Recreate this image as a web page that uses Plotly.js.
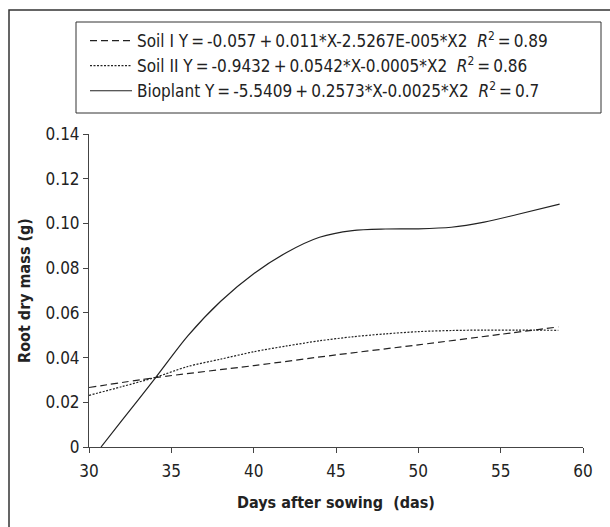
<!DOCTYPE html>
<html>
<head>
<meta charset="utf-8">
<script src="https://cdn.plot.ly/plotly-3.0.1.min.js"></script>
<style>html,body{margin:0;padding:0;background:#fff;}#chart{width:610px;height:527px;}</style>
</head>
<body>
<div id="chart"></div>
<script>
// ---- data ----
var soil1X = [30, 34, 40, 45, 50, 55, 58.5];
var soil1Y = [0.0266, 0.0310, 0.0364, 0.0412, 0.0457, 0.0504, 0.0537];

var soil2X = [30, 32, 34, 36, 38, 40, 42, 44, 46, 48, 50, 52, 54, 56, 58.5];
var soil2Y = [0.0231, 0.0270, 0.0311, 0.0360, 0.0393, 0.0426, 0.0452, 0.0475, 0.0493, 0.0506, 0.0516, 0.0521, 0.0523, 0.0523, 0.0522];

var bioX = [30.73, 32, 34, 36, 38, 40, 42, 44, 46, 48, 50, 52, 54, 56, 58.58];
var bioY = [0, 0.0119, 0.0306, 0.0497, 0.0652, 0.0775, 0.0870, 0.0938, 0.0968, 0.0975, 0.0976, 0.0983, 0.1006, 0.1040, 0.1086];

var names = [
  "Soil I Y\u2009=\u2009-0.057\u2009+\u20090.011*X-2.5267E-005*X2\u00a0\u00a0<i>R</i><sup>2</sup>\u2009=\u20090.89",
  "Soil II Y\u2009=\u2009-0.9432\u2009+\u20090.0542*X-0.0005*X2\u00a0\u00a0<i>R</i><sup>2</sup>\u2009=\u20090.86",
  "Bioplant Y\u2009=\u2009-5.5409\u2009+\u20090.2573*X-0.0025*X2\u00a0\u00a0<i>R</i><sup>2</sup>\u2009=\u20090.7"
];

var xTicks = [30, 35, 40, 45, 50, 55, 60];
var yTicks = [0, 0.02, 0.04, 0.06, 0.08, 0.10, 0.12, 0.14];
var yTickText = ["0", "0.02", "0.04", "0.06", "0.08", "0.10", "0.12", "0.14"];

var FONT = "'Liberation Sans Narrow', 'DejaVu Sans Condensed', 'Arial Narrow', sans-serif";
var LC = "#222";

var traces = [
  {x: soil1X, y: soil1Y, name: names[0], mode: "lines", line: {color: LC, width: 1.2, dash: "7px,4px", shape: "spline", smoothing: 0.8}},
  {x: soil2X, y: soil2Y, name: names[1], mode: "lines", line: {color: LC, width: 1.2, dash: "2px,1.5px", shape: "spline", smoothing: 0.8}},
  {x: bioX, y: bioY, name: names[2], mode: "lines", line: {color: LC, width: 1.2, shape: "spline", smoothing: 0.8}}
];

// pixel helpers for paper coordinates (plot area 89..583 x, 134..447 y)
function px(p){ return (p - 89) / 494; }
function py(p){ return (447 - p) / 313; }

var layout = {
  width: 610, height: 527,
  margin: {l: 89, r: 27, t: 134, b: 80},
  paper_bgcolor: "#fff", plot_bgcolor: "#fff",
  font: {family: FONT, size: 17, color: "#222"},
  showlegend: true,
  legend: {
    x: px(85), y: py(23), xanchor: "left", yanchor: "top",
    bgcolor: "rgba(0,0,0,0)", borderwidth: 0, itemwidth: 42,
    font: {family: FONT, size: 17, color: "#222"},
    tracegroupgap: 0
  },
  xaxis: {
    range: [30, 60], tickvals: xTicks, ticktext: xTicks.map(String),
    showgrid: false, zeroline: false, showline: true, linecolor: "#444", linewidth: 1,
    ticks: "outside", ticklen: 5, tickcolor: "#444", ticklabelstandoff: 4,
    tickfont: {family: FONT, size: 17, color: "#222"},
    title: {text: "<b>Days after sowing\u00a0\u00a0(das)</b>", font: {family: FONT, size: 16, color: "#222"}, standoff: 16}
  },
  yaxis: {
    range: [0, 0.14], tickvals: yTicks, ticktext: yTickText,
    showgrid: false, zeroline: false, showline: true, linecolor: "#444", linewidth: 1,
    ticks: "outside", ticklen: 5, tickcolor: "#444",
    tickfont: {family: FONT, size: 17, color: "#222"},
    title: {text: "<b>Root dry mass (g)</b>", font: {family: FONT, size: 16, color: "#222"}, standoff: 10}
  },
  shapes: [
    {type: "rect", xref: "paper", yref: "paper", x0: px(9), x1: px(640), y0: py(560), y1: py(10),
     line: {color: "#333", width: 1.5}, fillcolor: "rgba(0,0,0,0)", layer: "below"},
    {type: "rect", xref: "paper", yref: "paper", x0: px(76), x1: px(601), y0: py(113), y1: py(22),
     line: {color: "#333", width: 1}, fillcolor: "rgba(0,0,0,0)", layer: "below"}
  ]
};

Plotly.newPlot("chart", traces, layout, {staticPlot: true, displayModeBar: false});
</script>
</body>
</html>
